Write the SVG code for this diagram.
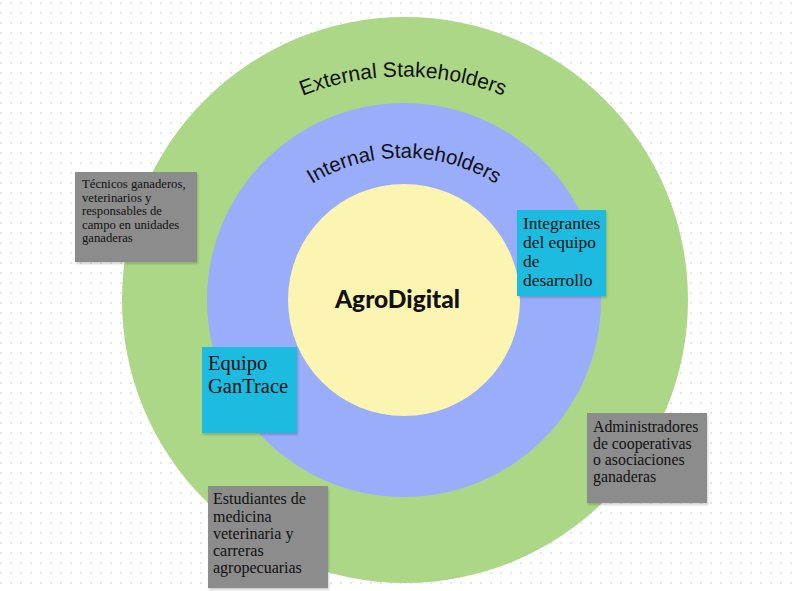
<svg xmlns="http://www.w3.org/2000/svg" width="797" height="591" viewBox="0 0 797 591">
<defs>
<pattern id="dots" x="0" y="2" width="10" height="10" patternUnits="userSpaceOnUse">
<rect x="0" y="0" width="2" height="2" fill="#e6e6e6"/>
</pattern>
<filter id="sh" x="-10%" y="-10%" width="130%" height="130%">
<feDropShadow dx="1" dy="2" stdDeviation="1.2" flood-color="#000" flood-opacity="0.18"/>
</filter>
<path id="arcExt" d="M 280 106 A 272 272 0 0 1 526 106"/>
<path id="arcInt" d="M 290 200 A 175 175 0 0 1 518 200"/>
</defs>
<style>
.arc{font-family:"Liberation Sans","Noto Sans",sans-serif;fill:#111}
.box{font-family:"Liberation Serif","DejaVu Serif",serif;fill:#111}
.gray{fill:#8c8c8c}
.cyan{fill:#1dbbdf}
</style>
<rect width="797" height="591" fill="#ffffff"/>
<rect width="797" height="591" fill="url(#dots)"/>
<g id="external">
<circle cx="405" cy="300" r="283" fill="#abd786"/>
<text class="arc" font-size="21"><textPath href="#arcExt" startOffset="50%" text-anchor="middle">External Stakeholders</textPath></text>
</g>
<g id="internal">
<circle cx="404" cy="300" r="197" fill="#9aadfb"/>
<text class="arc" font-size="20.5"><textPath href="#arcInt" startOffset="50%" text-anchor="middle">Internal Stakeholders</textPath></text>
</g>
<g id="agrodigital">
<circle cx="404" cy="300" r="116" fill="#fcf5b1"/>
<text x="397.5" y="308" text-anchor="middle" font-family="Lato,'Liberation Sans',sans-serif" font-weight="900" font-size="24.5" fill="#111">AgroDigital</text>
</g>
<g id="tecnicos">
<rect class="gray" x="75" y="172" width="122" height="90" filter="url(#sh)"/>
<text class="box" font-size="12.7"><tspan x="82" y="188">Técnicos ganaderos,</tspan><tspan x="82" y="201.5">veterinarios y</tspan><tspan x="82" y="215">responsables de</tspan><tspan x="82" y="228.5">campo en unidades</tspan><tspan x="82" y="242">ganaderas</tspan></text>
</g>
<g id="integrantes">
<rect class="cyan" x="517" y="210" width="89" height="86" filter="url(#sh)"/>
<text class="box" font-size="17.4"><tspan x="523" y="229">Integrantes</tspan><tspan x="523" y="248">del equipo</tspan><tspan x="523" y="267">de</tspan><tspan x="523" y="286">desarrollo</tspan></text>
</g>
<g id="gantrace">
<rect class="cyan" x="202" y="347" width="95" height="86" filter="url(#sh)"/>
<text class="box" font-size="20.5"><tspan x="208" y="370">Equipo</tspan><tspan x="208" y="393">GanTrace</tspan></text>
</g>
<g id="administradores">
<rect class="gray" x="587" y="413" width="120" height="90" filter="url(#sh)"/>
<text class="box" font-size="15.8"><tspan x="593" y="432">Administradores</tspan><tspan x="593" y="448.5">de cooperativas</tspan><tspan x="593" y="465">o asociaciones</tspan><tspan x="593" y="482">ganaderas</tspan></text>
</g>
<g id="estudiantes">
<rect class="gray" x="208" y="486" width="120" height="102" filter="url(#sh)"/>
<text class="box" font-size="16"><tspan x="213" y="504">Estudiantes de</tspan><tspan x="213" y="521.5">medicina</tspan><tspan x="213" y="539">veterinaria y</tspan><tspan x="213" y="556">carreras</tspan><tspan x="213" y="573">agropecuarias</tspan></text>
</g>
<g id="connectors"></g>
</svg>
